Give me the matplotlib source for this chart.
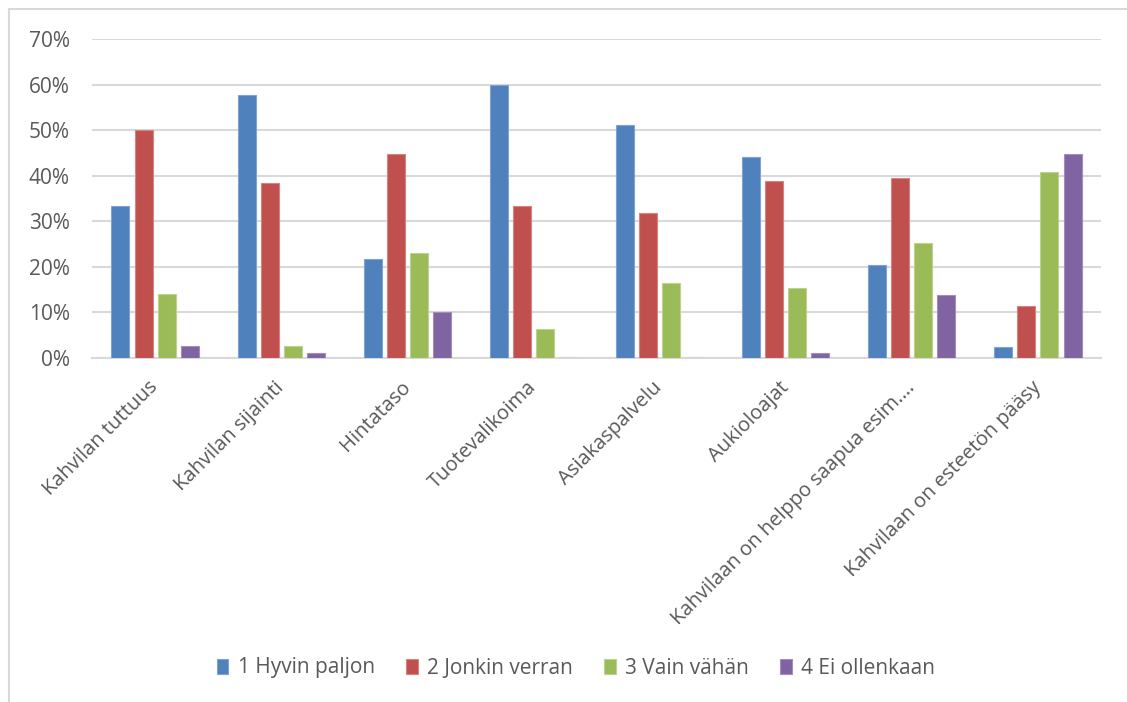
import numpy as np
import matplotlib.pyplot as plt
from matplotlib.patches import Rectangle
from matplotlib.ticker import PercentFormatter

categories = [
    'Kahvilan tuttuus',
    'Kahvilan sijainti',
    'Hintataso',
    'Tuotevalikoima',
    'Asiakaspalvelu',
    'Aukioloajat',
    'Kahvilaan on helppo saapua esim.…',
    'Kahvilaan on esteetön pääsy',
]
series_names = ['1 Hyvin paljon', '2 Jonkin verran', '3 Vain vähän', '4 Ei ollenkaan']

hyvin_paljon = [33.3, 57.7, 21.8, 60.0, 51.2, 44.1, 20.4, 2.5]
jonkin_verran = [50.0, 38.4, 44.7, 33.3, 31.8, 38.8, 39.6, 11.4]
vain_vahan = [14.0, 2.6, 23.0, 6.4, 16.4, 15.3, 25.3, 40.8]
ei_ollenkaan = [2.6, 1.1, 10.1, 0.0, 0.0, 1.0, 13.9, 44.7]

colors = ['#4F81BD', '#C0504D', '#9BBB59', '#8064A2']
edges = ['#7FA3D3', '#D58482', '#BCD38E', '#A38CC0']

plt.rcParams['font.family'] = ['Open Sans', 'DejaVu Sans']
text_color = '#595959'
fsize = 15

fig = plt.figure(figsize=(11.27, 7.02), dpi=100)
ax = fig.add_axes([92 / 1127, 1 - 358 / 702, 1009 / 1127, 319 / 702])

x = np.arange(len(categories))
width = 0.143
step = 0.183
for i, (vals, name) in enumerate(zip([hyvin_paljon, jonkin_verran, vain_vahan, ei_ollenkaan], series_names)):
    pos = x + (i - 1.5) * step
    ax.bar(pos, np.array(vals) / 100, width, color=colors[i], edgecolor=edges[i],
           linewidth=0.8, label=name, zorder=3)

ax.set_xlim(-0.5, len(categories) - 0.5)
ax.set_ylim(0, 0.7)
ax.set_yticks(np.arange(0, 0.71, 0.1))
ax.yaxis.set_major_formatter(PercentFormatter(1.0, decimals=0))
ax.grid(axis='y', color='#d9d9d9', linewidth=1.5, zorder=0)
for side in ['top', 'right', 'left']:
    ax.spines[side].set_visible(False)
ax.spines['bottom'].set_color('#d9d9d9')
ax.spines['bottom'].set_linewidth(1.5)
ax.tick_params(axis='both', length=0, labelsize=fsize, colors=text_color)
ax.tick_params(axis='y', pad=16)

ax.set_xticks(x)
ax.set_xticklabels(categories, rotation=45, ha='right', va='center',
                   rotation_mode='anchor', fontsize=14.5)
ax.tick_params(axis='x', pad=19)

leg = fig.legend(loc='center', bbox_to_anchor=(576 / 1127, 1 - 668 / 702), ncol=4,
                 frameon=False, fontsize=fsize, handlelength=0.55, handleheight=0.7,
                 handletextpad=0.45, columnspacing=1.5)
for t in leg.get_texts():
    t.set_color(text_color)

# outer chart frame
fig.patches.append(Rectangle((9 / 1127, -0.1), 1.2, 1 - 9 / 702 + 0.1,
                             transform=fig.transFigure, fill=False,
                             edgecolor='#d9d9d9', linewidth=1.5))

fig.savefig('out.png', dpi=100)
